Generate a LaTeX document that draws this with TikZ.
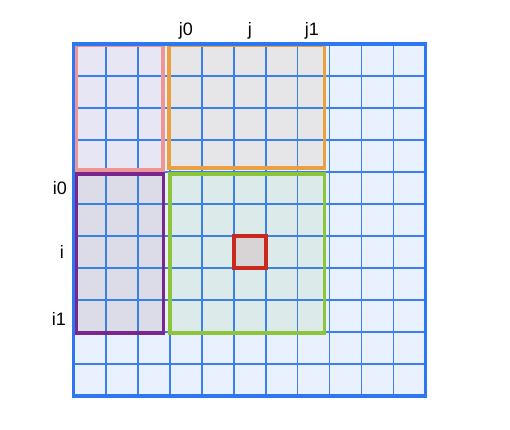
\documentclass[tikz,border=0pt]{standalone}
\usepackage{fontspec}
\setmainfont{Liberation Sans}
\usepackage{tikz}
\usetikzlibrary{positioning}
\definecolor{gridblue}{RGB}{58,128,230}
\definecolor{outerblue}{RGB}{45,120,240}
\definecolor{cellfill}{RGB}{232,241,253}
\definecolor{pinkedge}{RGB}{238,150,150}
\definecolor{pinkfill}{RGB}{230,230,245}
\definecolor{orangeedge}{RGB}{232,160,64}
\definecolor{orangefill}{RGB}{230,230,232}
\definecolor{purpleedge}{RGB}{120,40,140}
\definecolor{purplefill}{RGB}{220,220,232}
\definecolor{greenedge}{RGB}{140,196,60}
\definecolor{greenfill}{RGB}{221,234,234}
\definecolor{rededge}{RGB}{200,40,30}
\definecolor{redfill}{RGB}{216,212,214}
\tikzset{
  gridline/.style={color=gridblue, line width=1.1pt},
  region/.style={line width=3pt},
  idxlabel/.style={font=\fontsize{16}{19}\selectfont, text=black, inner sep=0pt, anchor=base}
}

\begin{document}
\begin{tikzpicture}
  \useasboundingbox (-2.31,-1.06) rectangle (13.63,12.375);

  % Background of the grid
  \fill[cellfill] (0,0) rectangle (11,11);

  % Region fills
  \fill[pinkfill] (0.06,7.06) rectangle (2.78,10.97);
  \fill[orangefill] (2.97,7.12) rectangle (7.84,10.97);
  \fill[purplefill] (0.06,1.97) rectangle (2.8,6.94);
  \fill[greenfill] (3.0,1.97) rectangle (7.84,6.94);
  \fill[redfill] (5,4) rectangle (6,5);

  % Draw grid
  \foreach \k in {1,...,10} {
    \draw[gridline] (\k,0) -- (\k,11);
    \draw[gridline] (0,\k) -- (11,\k);
  }

  % Region borders
  \draw[region, color=pinkedge] (0.06,7.06) rectangle (2.78,10.97);
  \draw[region, color=orangeedge] (2.97,7.12) rectangle (7.84,10.97);
  \draw[region, color=purpleedge] (0.06,1.97) rectangle (2.8,6.94);
  \draw[region, color=greenedge] (3.0,1.97) rectangle (7.84,6.94);
  \draw[region, color=rededge] (5,4) rectangle (6,5);

  % Outer border
  \draw[color=outerblue, line width=2.8pt] (0,0) rectangle (11,11);

  % Index labels
  \node[idxlabel] (j0) at (3.5,11.25) {j0};
  \node[idxlabel] (j) at (5.5,11.25) {j};
  \node[idxlabel] (j1) at (7.44,11.25) {j1};
  \node[idxlabel] (i0) at (-0.44,6.31) {i0};
  \node[idxlabel] (i) at (-0.38,4.28) {i};
  \node[idxlabel] (i1) at (-0.47,2.19) {i1};
\end{tikzpicture}
\end{document}
